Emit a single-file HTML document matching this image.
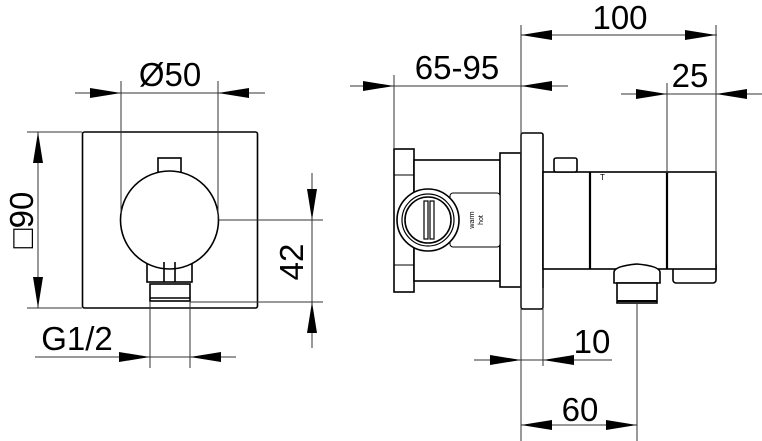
<!DOCTYPE html>
<html><head><meta charset="utf-8"><style>
html,body{margin:0;padding:0;background:#fff;width:762px;height:441px;overflow:hidden}
svg{display:block}
text{font-family:"Liberation Sans",sans-serif;fill:#000}
</style></head><body>
<svg width="762" height="441" viewBox="0 0 762 441" xmlns="http://www.w3.org/2000/svg">
<defs>
<g id="a"><polygon points="0,0 -31,-5 -31,5" fill="#000"/></g>
</defs>
<!-- front view -->
<g stroke="#000" stroke-width="1.6" fill="#fff">
<rect x="82.5" y="132" width="175" height="176" rx="2"/>
<rect x="158" y="158" width="23" height="16"/>
<rect x="147" y="264" width="45" height="18"/>
<circle cx="169.5" cy="220" r="49"/>
<path d="M164,282 V262 M175,282 V262" fill="none"/>
<rect x="150" y="284" width="40" height="17"/>
<line x1="150" y1="298" x2="190" y2="298"/>
</g>
<!-- side view -->
<g stroke="#000" stroke-width="1.6" fill="#fff">
<rect x="394" y="149" width="20" height="143"/>
<rect x="414" y="160" width="86" height="121"/>
<rect x="500" y="153" width="21" height="134"/>
<rect x="521" y="133" width="22" height="176" rx="2"/>
<rect x="450" y="193" width="50" height="54" rx="3" stroke-width="1"/>
<circle cx="428" cy="220" r="31"/>
<circle cx="428" cy="220" r="26" stroke-width="1.2"/>
<circle cx="428" cy="220" r="23"/>
<rect x="424" y="201" width="4" height="38" stroke-width="1.2"/>
<rect x="430" y="201" width="4" height="38" stroke-width="1.2"/>
<rect x="673" y="262" width="43" height="21" rx="3"/>
<rect x="543" y="172" width="173" height="97"/>
<line x1="590" y1="172" x2="590" y2="269" stroke-width="2.2"/>
<line x1="667" y1="172" x2="667" y2="269" stroke-width="2.2"/>
<rect x="554" y="158" width="23" height="14" rx="2"/>
<path d="M614,283 V272 Q615,266 637,264 Q659,266 660,272 V283 Z"/>
<rect x="617" y="283" width="40" height="20"/>
<line x1="617" y1="301" x2="657" y2="301" stroke-width="2"/>
</g>
<line x1="394" y1="175" x2="414" y2="175" stroke="#000" stroke-width="1"/>
<line x1="394" y1="265" x2="414" y2="265" stroke="#000" stroke-width="1"/>
<text transform="translate(474,220) rotate(-90)" font-size="7" text-anchor="middle">warm</text>
<text transform="translate(483,220) rotate(-90)" font-size="7" text-anchor="middle">hot</text>
<text x="600" y="180" font-size="8">T</text>
<!-- thin dim lines -->
<g stroke="#333" stroke-width="1" fill="none">
<line x1="75" y1="93" x2="265" y2="93"/>
<line x1="121" y1="81" x2="121" y2="214"/>
<line x1="218" y1="81" x2="218" y2="220"/>
<line x1="38" y1="132" x2="38" y2="308"/>
<line x1="27" y1="132" x2="82" y2="132"/>
<line x1="27" y1="308" x2="82" y2="308"/>
<line x1="312" y1="173" x2="312" y2="348"/>
<line x1="219" y1="220" x2="323" y2="220"/>
<line x1="190" y1="302" x2="323" y2="302"/>
<line x1="35" y1="357" x2="236" y2="357"/>
<line x1="150" y1="301" x2="150" y2="368"/>
<line x1="190" y1="301" x2="190" y2="368"/>
<line x1="521" y1="35" x2="717" y2="35"/>
<line x1="521" y1="25" x2="521" y2="441"/>
<line x1="716" y1="25" x2="716" y2="173"/>
<line x1="350" y1="86" x2="568" y2="86"/>
<line x1="394" y1="75" x2="394" y2="149"/>
<line x1="621" y1="94" x2="762" y2="94"/>
<line x1="667" y1="83" x2="667" y2="173"/>
<line x1="474" y1="360" x2="612" y2="360"/>
<line x1="543" y1="288" x2="543" y2="366"/>
<line x1="521" y1="425" x2="637" y2="425"/>
<line x1="637" y1="304" x2="637" y2="441"/>
</g>
<!-- arrows -->
<use href="#a" transform="translate(121,93)"/>
<use href="#a" transform="translate(218,93) rotate(180)"/>
<use href="#a" transform="translate(38,132) rotate(-90)"/>
<use href="#a" transform="translate(38,308) rotate(90)"/>
<use href="#a" transform="translate(312,220) rotate(90)"/>
<use href="#a" transform="translate(312,302) rotate(-90)"/>
<use href="#a" transform="translate(150,357)"/>
<use href="#a" transform="translate(190,357) rotate(180)"/>
<use href="#a" transform="translate(521,35) rotate(180)"/>
<use href="#a" transform="translate(716,35)"/>
<use href="#a" transform="translate(394,86)"/>
<use href="#a" transform="translate(521,86) rotate(180)"/>
<use href="#a" transform="translate(667,94)"/>
<use href="#a" transform="translate(716,94) rotate(180)"/>
<use href="#a" transform="translate(521,360)"/>
<use href="#a" transform="translate(543,360) rotate(180)"/>
<use href="#a" transform="translate(521,425) rotate(180)"/>
<use href="#a" transform="translate(637,425)"/>
<!-- labels -->
<text x="170" y="86" font-size="33" text-anchor="middle">Ø50</text>
<text transform="translate(33,220) rotate(-90)" font-size="33" text-anchor="middle">□90</text>
<text transform="translate(303,262) rotate(-90)" font-size="33" text-anchor="middle">42</text>
<text x="77" y="350" font-size="33" text-anchor="middle">G1/2</text>
<text x="620" y="29" font-size="33" text-anchor="middle">100</text>
<text x="457" y="79" font-size="33" text-anchor="middle">65-95</text>
<text x="690" y="87" font-size="33" text-anchor="middle">25</text>
<text x="592" y="353" font-size="33" text-anchor="middle">10</text>
<text x="580" y="421" font-size="33" text-anchor="middle">60</text>
</svg>
</body></html>
